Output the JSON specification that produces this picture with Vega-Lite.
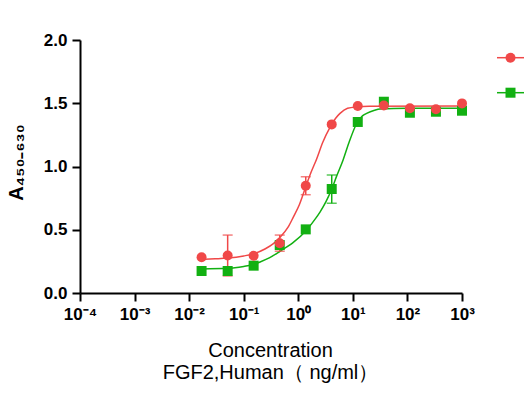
{
  "$schema": "https://vega.github.io/schema/vega-lite/v6.json",
  "width": 382,
  "height": 253,
  "autosize": {"type": "none"},
  "padding": {"left": 80, "top": 40, "right": 68, "bottom": 112},
  "background": "white",
  "config": {
    "view": {"stroke": null},
    "axis": {
      "grid": false,
      "domainColor": "black",
      "domainWidth": 2,
      "tickColor": "black",
      "tickWidth": 2,
      "tickSize": 8,
      "labelFont": "Liberation Sans",
      "labelFontWeight": "bold",
      "labelFontSize": 17,
      "labelColor": "black",
      "titleColor": "black",
      "titleFont": "Liberation Sans"
    },
    "legend": {
      "title": null,
      "orient": "none",
      "legendX": 424.5,
      "legendY": 11.7,
      "padding": 0,
      "symbolSize": 100,
      "rowPadding": 19,
      "labelFontSize": 10,
      "labelOffset": 2,
      "labelColor": "black",
      "symbolOpacity": 1,
      "symbolStrokeWidth": 1.5
    }
  },
  "resolve": {
    "scale": {"color": "independent", "shape": "independent"},
    "legend": {"color": "independent", "shape": "independent"}
  },
  "datasets": {
    "curves": [
      {"series": "Sample 2", "conc": 0.0169, "y": 0.19},
      {"series": "Sample 2", "conc": 0.0508, "y": 0.195},
      {"series": "Sample 2", "conc": 0.1, "y": 0.21},
      {"series": "Sample 2", "conc": 0.152, "y": 0.225},
      {"series": "Sample 2", "conc": 0.199, "y": 0.245},
      {"series": "Sample 2", "conc": 0.3, "y": 0.28},
      {"series": "Sample 2", "conc": 0.462, "y": 0.33},
      {"series": "Sample 2", "conc": 0.811, "y": 0.4},
      {"series": "Sample 2", "conc": 1.37, "y": 0.49},
      {"series": "Sample 2", "conc": 2.0, "y": 0.58},
      {"series": "Sample 2", "conc": 2.5, "y": 0.64},
      {"series": "Sample 2", "conc": 3.2, "y": 0.72},
      {"series": "Sample 2", "conc": 4.09, "y": 0.82},
      {"series": "Sample 2", "conc": 5.0, "y": 0.92},
      {"series": "Sample 2", "conc": 6.6, "y": 1.05},
      {"series": "Sample 2", "conc": 8.5, "y": 1.19},
      {"series": "Sample 2", "conc": 11.75, "y": 1.34},
      {"series": "Sample 2", "conc": 15, "y": 1.4},
      {"series": "Sample 2", "conc": 17.9, "y": 1.42},
      {"series": "Sample 2", "conc": 25, "y": 1.445},
      {"series": "Sample 2", "conc": 31.4, "y": 1.455},
      {"series": "Sample 2", "conc": 100, "y": 1.46},
      {"series": "Sample 2", "conc": 1000, "y": 1.46},
      {"series": "Sample 1", "conc": 0.0169, "y": 0.265},
      {"series": "Sample 1", "conc": 0.03, "y": 0.27},
      {"series": "Sample 1", "conc": 0.0508, "y": 0.276},
      {"series": "Sample 1", "conc": 0.1, "y": 0.293},
      {"series": "Sample 1", "conc": 0.152, "y": 0.31},
      {"series": "Sample 1", "conc": 0.25, "y": 0.35},
      {"series": "Sample 1", "conc": 0.35, "y": 0.39},
      {"series": "Sample 1", "conc": 0.462, "y": 0.44},
      {"series": "Sample 1", "conc": 0.65, "y": 0.52},
      {"series": "Sample 1", "conc": 0.811, "y": 0.6},
      {"series": "Sample 1", "conc": 1.05, "y": 0.7},
      {"series": "Sample 1", "conc": 1.37, "y": 0.84},
      {"series": "Sample 1", "conc": 1.7, "y": 0.95},
      {"series": "Sample 1", "conc": 2.17, "y": 1.06},
      {"series": "Sample 1", "conc": 2.8, "y": 1.19},
      {"series": "Sample 1", "conc": 3.81, "y": 1.31},
      {"series": "Sample 1", "conc": 4.8, "y": 1.38},
      {"series": "Sample 1", "conc": 5.82, "y": 1.42},
      {"series": "Sample 1", "conc": 8, "y": 1.46},
      {"series": "Sample 1", "conc": 11.75, "y": 1.472},
      {"series": "Sample 1", "conc": 20, "y": 1.477},
      {"series": "Sample 1", "conc": 1000, "y": 1.478}
    ],
    "errors": [
      {"series": "Sample 1", "conc": 0.0508, "y": 0.135, "y2": 0.458},
      {"series": "Sample 1", "conc": 0.457, "y": 0.33, "y2": 0.458},
      {"series": "Sample 1", "conc": 1.37, "y": 0.777, "y2": 0.919},
      {"series": "Sample 2", "conc": 4.1, "y": 0.709, "y2": 0.933}
    ],
    "points": [
      {"series": "Sample 2", "conc": 0.0169, "y": 0.174},
      {"series": "Sample 2", "conc": 0.0508, "y": 0.174},
      {"series": "Sample 2", "conc": 0.152, "y": 0.216},
      {"series": "Sample 2", "conc": 0.457, "y": 0.379},
      {"series": "Sample 2", "conc": 1.37, "y": 0.503},
      {"series": "Sample 2", "conc": 4.1, "y": 0.822},
      {"series": "Sample 2", "conc": 12.3, "y": 1.352},
      {"series": "Sample 2", "conc": 37, "y": 1.512},
      {"series": "Sample 2", "conc": 111, "y": 1.425},
      {"series": "Sample 2", "conc": 333, "y": 1.433},
      {"series": "Sample 2", "conc": 1000, "y": 1.441},
      {"series": "Sample 1", "conc": 0.0169, "y": 0.282},
      {"series": "Sample 1", "conc": 0.0508, "y": 0.297},
      {"series": "Sample 1", "conc": 0.152, "y": 0.295},
      {"series": "Sample 1", "conc": 0.457, "y": 0.393},
      {"series": "Sample 1", "conc": 1.37, "y": 0.848},
      {"series": "Sample 1", "conc": 4.1, "y": 1.333},
      {"series": "Sample 1", "conc": 12.3, "y": 1.478},
      {"series": "Sample 1", "conc": 37, "y": 1.482},
      {"series": "Sample 1", "conc": 111, "y": 1.46},
      {"series": "Sample 1", "conc": 333, "y": 1.452},
      {"series": "Sample 1", "conc": 1000, "y": 1.499}
    ]
  },
  "encoding": {
    "x": {
      "field": "conc",
      "type": "quantitative",
      "scale": {"type": "log", "domain": [0.0001, 1000], "nice": false},
      "axis": {
        "values": [0.0001, 0.001, 0.01, 0.1, 1, 10, 100, 1000],
        "labelExpr": "['10⁻⁴','10⁻³','10⁻²','10⁻¹','10⁰','10¹','10²','10³'][round(log(datum.value)/LN10)+4]",
        "labelPadding": 5,
        "labelFlush": false,
        "labelOverlap": false,
        "title": ["Concentration", "FGF2,Human（ ng/ml）"],
        "titleFontSize": 20,
        "titleFontWeight": "normal",
        "titleLineHeight": 22,
        "titleBaseline": "alphabetic",
        "titleY": 63,
        "titleX": 190
      }
    },
    "y": {
      "field": "y",
      "type": "quantitative",
      "scale": {"domain": [0, 2], "nice": false},
      "axis": {
        "values": [0, 0.5, 1, 1.5, 2],
        "format": ".1f",
        "labelPadding": 5,
        "title": "A₄₅₀₋₆₃₀",
        "titleFontSize": 20,
        "titleFontWeight": "bold",
        "titleBaseline": "alphabetic",
        "titleAngle": 270,
        "titleX": -58,
        "titleY": 122
      }
    }
  },
  "layer": [
    {
      "data": {"name": "curves"},
      "mark": {"type": "line", "interpolate": "monotone", "strokeWidth": 1.5},
      "encoding": {
        "color": {
          "field": "series",
          "type": "nominal",
          "scale": {"domain": ["Sample 1", "Sample 2"], "range": ["#F04848", "#12B012"]},
          "legend": {"symbolType": "M-2.7,0H2.7", "rowPadding": 24, "labelExpr": "''"}
        },
        "detail": {"field": "series"}
      }
    },
    {
      "data": {"name": "errors"},
      "mark": {"type": "errorbar", "ticks": {"size": 10}, "thickness": 1.5},
      "encoding": {
        "y2": {"field": "y2"},
        "color": {
          "field": "series",
          "type": "nominal",
          "scale": {"domain": ["Sample 1", "Sample 2"], "range": ["#F04848", "#12B012"]},
          "legend": null
        }
      }
    },
    {
      "data": {"name": "points"},
      "mark": {"type": "point", "filled": true, "size": 100, "opacity": 1},
      "encoding": {
        "color": {
          "field": "series",
          "type": "nominal",
          "scale": {"domain": ["Sample 1", "Sample 2"], "range": ["#F04848", "#12B012"]},
          "legend": {"labelExpr": "''"}
        },
        "shape": {
          "field": "series",
          "type": "nominal",
          "scale": {"domain": ["Sample 1", "Sample 2"], "range": ["circle", "square"]},
          "legend": {"labelExpr": "''"}
        }
      }
    }
  ]
}
